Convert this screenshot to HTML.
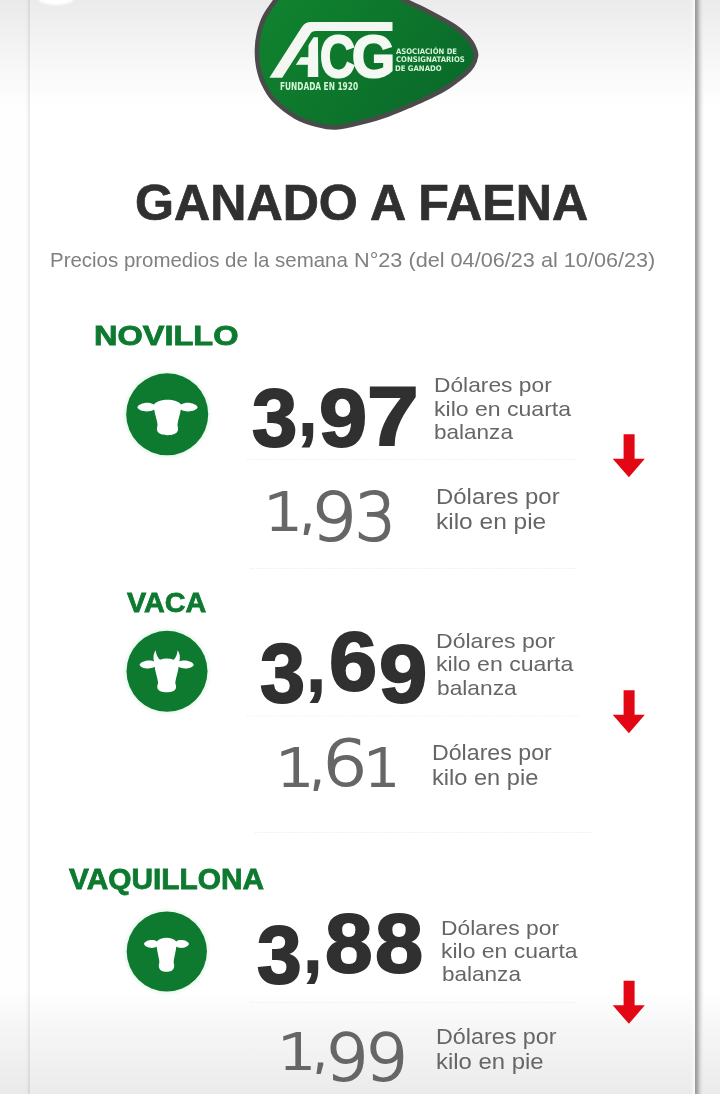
<!DOCTYPE html>
<html lang="es"><head><meta charset="utf-8"><title>Ganado a faena</title>
<style>
html,body{margin:0;padding:0}
html{width:720px;height:1094px;overflow:hidden}
body{width:720px;height:1094px;position:relative;overflow:hidden;background:#fff;font-family:"Liberation Sans",sans-serif}
.bg{position:absolute;left:0;top:0;width:720px;height:1094px;background:
 linear-gradient(to bottom,#ebebeb 0,#f1f1f1 30px,#f9f9f9 72px,#fff 108px,#fff 990px,#f6f6f6 1030px,#ebebeb 1094px)}
.lstrip{position:absolute;left:0;top:0;width:28px;height:1094px;background:rgba(0,0,0,.004)}
.lline{position:absolute;left:27.5px;top:0;width:2px;height:1094px;background:rgba(0,0,0,.075);box-shadow:-1.5px 0 2px rgba(0,0,0,.03)}
.oval{position:absolute;left:38px;top:-8px;width:36px;height:13px;border-radius:50%;background:#fff;filter:blur(1px)}
.redge{position:absolute;left:692px;top:0;width:28px;height:1094px;background:linear-gradient(to right,rgba(255,255,255,0) 0,rgba(255,255,255,.5) 1px,rgba(255,255,255,.5) 2.6px,#9a9a9a 3.2px,#a6a6a6 5px,rgba(190,190,190,.8) 7px,rgba(215,215,215,.55) 9px,rgba(235,235,235,.25) 11px,rgba(255,255,255,0) 12.5px)}
.t{position:absolute;white-space:nowrap;line-height:1;transform-origin:0 0;display:block}
svg{position:absolute;left:0;top:0}
.desc,.asoc{position:absolute;left:0;top:0}
.num,.acg,.il{position:absolute;left:0;top:0;font-size:0;line-height:0;white-space:nowrap}
.g{display:inline-block;position:relative;width:0;height:0;vertical-align:top;white-space:nowrap;line-height:1;transform-origin:0 0}
.aclip{display:inline-block;position:relative;vertical-align:top;width:0;height:0;clip-path:polygon(313.5px 37.2px,320px 37.2px,320px 80px,286px 80px,287.5px 77.8px)}
.page{position:absolute;left:0;top:0;width:720px;height:1094px;overflow:hidden}
</style></head><body><div class="page">
<div class="bg"></div><div class="lstrip"></div><div class="lline"></div><div class="redge"></div><div class="oval"></div>
<svg width="720" height="1094" viewBox="0 0 720 1094">
<defs><linearGradient id="lg" x1="0" y1="0" x2="1" y2="0.6"><stop offset="0" stop-color="#11862f"/><stop offset="1" stop-color="#0a6b2a"/></linearGradient>
<filter id="blur2" x="-20%" y="-20%" width="140%" height="140%"><feGaussianBlur stdDeviation="1.6"/></filter></defs>
<path d="M300,-30 C287.6,-28.7 289.5,-17.0 285.5,-12 C281.5,-7.0 279.3,-4.8 275.8,0 C272.3,4.8 267.4,11.2 264.6,16.7 C261.8,22.2 260.3,27.4 259,33 C257.7,38.5 257.1,44.4 257,50 C256.9,55.6 257.2,61.2 258.3,66.7 C259.4,72.2 260.7,77.5 263.3,83 C265.9,88.5 268.6,94.4 274,100 C279.4,105.6 288.5,112.6 295.5,116.7 C302.5,120.8 309.2,122.7 316,124.5 C322.8,126.3 327.8,128.0 336,127.5 C344.2,127.0 356.3,123.7 365,121.5 C373.7,119.3 380.7,117.1 388,114.5 C395.3,111.9 402.5,108.8 409,106 C415.5,103.2 421.2,100.8 427,98 C432.8,95.2 438.7,92.3 443.5,89.5 C448.3,86.7 452.2,83.8 456,81 C459.8,78.2 463.2,75.6 466,73 C468.8,70.4 470.8,68.3 472.5,65.5 C474.2,62.7 475.6,58.6 476,56 C476.4,53.4 475.8,52.2 475,50 C474.2,47.8 473.2,45.1 471.5,42.5 C469.8,39.9 467.3,37.2 464.5,34.5 C461.7,31.8 458.4,29.2 454.5,26.5 C450.6,23.8 445.9,21.2 441,18.5 C436.1,15.8 430.5,12.8 425,10 C419.5,7.2 414.2,5.0 408,2 C401.8,-1.0 396.0,-4.3 388,-8 C380.0,-11.7 374.7,-16.3 360,-20 C345.3,-23.7 312.4,-31.3 300,-30Z" fill="url(#lg)" stroke="#4b4b4b" stroke-width="4.6"/>
<path d="M269.4,77.8 L282.2,77.8 L310,34.4 Q312,31.1 316,31.1 L392.5,31.1 L392.5,22.1 L311,22.1 Q305,22.1 301.5,27.5 Z" fill="#f3f6f1"/>
<circle cx="167.2" cy="414.3" r="43.2" fill="#d9f2df" opacity=".55" filter="url(#blur2)"/><circle cx="167.2" cy="414.3" r="41" fill="#0d7a30"/><path d="M 137.33,407.33 C 138.33,403.67 148.00,400.67 153.83,404.50 C 156.00,401.67 161.67,399.83 167.50,399.83 C 173.33,399.83 179.00,401.67 181.17,404.50 C 187.00,400.67 196.67,403.67 197.67,407.33 C 196.67,411.00 186.67,413.33 180.83,409.50 C 180.17,414.67 178.00,419.67 177.50,424.33 C 177.33,426.33 178.33,427.50 178.00,430.00 C 177.33,433.83 172.50,435.17 167.50,435.17 C 162.50,435.17 157.67,433.83 157.00,430.00 C 156.67,427.50 157.67,426.33 157.50,424.33 C 157.00,419.67 154.83,414.67 154.17,409.50 C 148.33,413.33 138.33,411.00 137.33,407.33 Z" fill="#fff"/><circle cx="167" cy="671.3" r="42.7" fill="#d9f2df" opacity=".55" filter="url(#blur2)"/><circle cx="167" cy="671.3" r="40.5" fill="#0d7a30"/><path d="M 139.50,664.83 C 140.67,661.00 150.00,659.00 154.00,661.50 C 152.83,657.50 153.50,653.33 155.67,650.33 C 156.17,654.17 157.17,657.67 160.00,659.67 C 164.17,658.00 169.17,658.00 173.67,659.67 C 176.17,657.67 177.17,654.17 177.67,650.33 C 179.83,653.33 180.50,657.50 179.33,661.50 C 183.33,659.00 192.67,661.00 193.83,664.83 C 192.67,668.50 183.33,670.00 178.67,666.83 C 178.00,672.00 176.00,677.67 175.33,682.17 C 175.17,684.17 176.33,685.17 176.00,687.67 C 175.33,691.00 171.33,692.17 166.67,692.17 C 162.00,692.17 158.00,691.00 157.33,687.67 C 157.00,685.17 158.17,684.17 158.00,682.17 C 157.33,677.67 155.33,672.00 154.67,666.83 C 150.00,670.00 140.67,668.50 139.50,664.83 Z" fill="#fff"/><circle cx="166.8" cy="951.5" r="42.300000000000004" fill="#d9f2df" opacity=".55" filter="url(#blur2)"/><circle cx="166.8" cy="951.5" r="40.1" fill="#0d7a30"/><path d="M 144.00,944.00 C 145.00,940.33 153.33,938.67 156.83,941.50 C 158.83,939.00 162.67,937.83 166.50,937.83 C 170.33,937.83 174.17,939.00 176.17,941.50 C 179.67,938.67 188.00,940.33 189.00,944.00 C 188.00,947.67 180.00,949.33 176.33,946.50 C 175.83,951.17 174.33,956.83 173.67,961.50 C 173.50,963.33 174.50,964.33 174.17,966.83 C 173.67,970.50 170.33,971.83 166.50,971.83 C 162.67,971.83 159.33,970.50 158.83,966.83 C 158.50,964.33 159.50,963.33 159.33,961.50 C 158.67,956.83 157.17,951.17 156.67,946.50 C 153.00,949.33 145.00,947.67 144.00,944.00 Z" fill="#fff"/>
<path d="M623.6,434.3 h11 v24.5 h10.2 L628.9,477.3 L612.7,458.8 h10.9 Z" fill="#e30613"/><path d="M623.6,690.3 h11 v24.5 h10.2 L628.9,733.3 L612.7,714.8 h10.9 Z" fill="#e30613"/><path d="M623.6,980.8 h11 v24.5 h10.2 L628.9,1023.8 L612.7,1005.3 h10.9 Z" fill="#e30613"/>
<line x1="247" y1="459.5" x2="576" y2="459.5" stroke="#eeeeee" stroke-width="1.2" stroke-dasharray="1.5 1.5"/><line x1="250" y1="568.5" x2="576" y2="568.5" stroke="#eeeeee" stroke-width="1.2" stroke-dasharray="1.5 1.5"/><line x1="247" y1="716" x2="580" y2="716" stroke="#eeeeee" stroke-width="1.2" stroke-dasharray="1.5 1.5"/><line x1="255" y1="832.5" x2="592" y2="832.5" stroke="#eeeeee" stroke-width="1.2" stroke-dasharray="1.5 1.5"/><line x1="250" y1="1002.5" x2="576" y2="1002.5" stroke="#eeeeee" stroke-width="1.2" stroke-dasharray="1.5 1.5"/>
</svg>
<header><div class="acg"><span class="aclip"><span class="g" style="left:267.4px;top:19px;font-size:69.8px;font-weight:700;color:#f4f8f3;transform-origin:0 58.8px;transform:scaleX(1.05) skewX(-19.6deg)">A</span></span><span class="g" style="left:320.22px;top:28.4px;font-size:58.72px;transform:scaleX(0.8232);color:#f4f8f3;font-weight:700;-webkit-text-stroke:2.2px #f4f8f3;">C</span><span class="g" style="left:351.82px;top:28.4px;font-size:58.72px;transform:scaleX(0.9405);color:#f4f8f3;font-weight:700;-webkit-text-stroke:2.2px #f4f8f3;">G</span></div><span class="t" style="left:280.23px;top:81.8px;font-size:9.6px;transform:scaleX(0.7719);color:#d6f5da;font-family:'DejaVu Sans',sans-serif;font-weight:700;">FUNDADA EN 1920</span><div class="asoc"><span class="t" style="left:396.1px;top:47.9px;font-size:7.7px;transform:scaleX(0.8945);color:#d6f5da;font-family:'DejaVu Sans',sans-serif;font-weight:700;">ASOCIACIÓN DE</span><span class="t" style="left:395.65px;top:56.2px;font-size:7.7px;transform:scaleX(0.898);color:#d6f5da;font-family:'DejaVu Sans',sans-serif;font-weight:700;">CONSIGNATARIOS</span><span class="t" style="left:395.43px;top:65.1px;font-size:7.7px;transform:scaleX(0.8985);color:#d6f5da;font-family:'DejaVu Sans',sans-serif;font-weight:700;">DE GANADO</span></div></header>
<h1 style="margin:0;font-size:inherit;font-weight:inherit"><span class="t" style="left:135.12px;top:177.95px;font-size:49.23px;transform:scaleX(1.0189);color:#303030;font-weight:700;-webkit-text-stroke:.7px #303030;">GANADO A FAENA</span></h1>
<p class="il" style="margin:0"><span class="g" style="left:49.56px;top:250.1px;font-size:20.6px;transform:scaleX(0.9931);color:#808080;">Precios promedios de la semana</span> <span class="g" style="left:353.96px;top:250.1px;font-size:20.6px;transform:scaleX(1.0519);color:#808080;">N°23 (del 04/06/23 al 10/06/23)</span></p>
<section><h2 style="margin:0;font-size:inherit"><span class="t" style="left:94.44px;top:322.55px;font-size:26.96px;transform:scaleX(1.2064);color:#0d7a30;font-weight:700;-webkit-text-stroke:.8px #0d7a30;">NOVILLO</span></h2><div class="num"><span class="g" style="left:251.75px;top:376.5px;font-size:81.85px;transform:scaleX(0.9942);color:#303030;font-weight:700;-webkit-text-stroke:2px #303030;">3</span><span class="g" style="left:299.32px;top:372.5px;font-size:73.73px;transform:scaleX(0.8593);color:#303030;font-weight:700;-webkit-text-stroke:2px #303030;">,</span><span class="g" style="left:318.95px;top:377.25px;font-size:82.13px;transform:scaleX(1.0548);color:#303030;font-weight:700;-webkit-text-stroke:2px #303030;">9</span><span class="g" style="left:367.19px;top:376.0px;font-size:82.69px;transform:scaleX(1.1239);color:#303030;font-weight:700;-webkit-text-stroke:2px #303030;">7</span></div><div class="desc"><span class="t" style="left:433.6px;top:374.0px;font-size:21.0px;transform:scaleX(1.0845);color:#666;">Dólares por</span><span class="t" style="left:433.85px;top:397.5px;font-size:21.0px;transform:scaleX(1.0972);color:#666;">kilo en cuarta</span><span class="t" style="left:434.16px;top:421.0px;font-size:21.0px;transform:scaleX(1.0727);color:#666;">balanza</span></div><div class="num"><span class="g" style="left:264.22px;top:485.8px;font-size:52.38px;transform:scaleX(1.1745);color:#666;font-family:'DejaVu Sans Light','DejaVu Sans',sans-serif;font-weight:200;-webkit-text-stroke:2.2px #666;">1</span><span class="g" style="left:297.66px;top:484.08px;font-size:52.71px;transform:scaleX(1.1667);color:#666;font-family:'DejaVu Sans Light','DejaVu Sans',sans-serif;font-weight:200;-webkit-text-stroke:2.2px #666;">,</span><span class="g" style="left:311.06px;top:485.1px;font-size:65.99px;transform:scaleX(1.0938);color:#666;font-family:'DejaVu Sans Light','DejaVu Sans',sans-serif;font-weight:200;-webkit-text-stroke:2.2px #666;">9</span><span class="g" style="left:355.29px;top:485.1px;font-size:65.99px;transform:scaleX(0.9767);color:#666;font-family:'DejaVu Sans Light','DejaVu Sans',sans-serif;font-weight:200;-webkit-text-stroke:2.2px #666;">3</span></div><div class="desc"><span class="t" style="left:435.58px;top:485.75px;font-size:21.8px;transform:scaleX(1.0973);color:#666;">Dólares por</span><span class="t" style="left:435.82px;top:510.75px;font-size:21.8px;transform:scaleX(1.1227);color:#666;">kilo en pie</span></div></section>
<section><h2 style="margin:0;font-size:inherit"><span class="t" style="left:127.01px;top:589.25px;font-size:27.66px;transform:scaleX(1.0393);color:#0d7a30;font-weight:700;-webkit-text-stroke:.8px #0d7a30;">VACA</span></h2><div class="num"><span class="g" style="left:259.86px;top:631.52px;font-size:82.47px;transform:scaleX(0.9827);color:#303030;font-weight:700;-webkit-text-stroke:2px #303030;">3</span><span class="g" style="left:307.28px;top:630.0px;font-size:72.34px;transform:scaleX(0.9057);color:#303030;font-weight:700;-webkit-text-stroke:2px #303030;">,</span><span class="g" style="left:328.63px;top:620.45px;font-size:83.58px;transform:scaleX(1.0353);color:#303030;font-weight:700;-webkit-text-stroke:2px #303030;">6</span><span class="g" style="left:379.25px;top:632.0px;font-size:82.34px;transform:scaleX(1.0548);color:#303030;font-weight:700;-webkit-text-stroke:2px #303030;">9</span></div><div class="desc"><span class="t" style="left:436.08px;top:629.5px;font-size:21.0px;transform:scaleX(1.0986);color:#666;">Dólares por</span><span class="t" style="left:436.35px;top:652.75px;font-size:21.0px;transform:scaleX(1.0992);color:#666;">kilo en cuarta</span><span class="t" style="left:436.65px;top:677.0px;font-size:21.0px;transform:scaleX(1.083);color:#666;">balanza</span></div><div class="num"><span class="g" style="left:275.96px;top:743.35px;font-size:51.06px;transform:scaleX(1.187);color:#666;font-family:'DejaVu Sans Light','DejaVu Sans',sans-serif;font-weight:200;-webkit-text-stroke:2.2px #666;">1</span><span class="g" style="left:308.42px;top:739.85px;font-size:53.14px;transform:scaleX(1.1333);color:#666;font-family:'DejaVu Sans Light','DejaVu Sans',sans-serif;font-weight:200;-webkit-text-stroke:2.2px #666;">,</span><span class="g" style="left:321.66px;top:732.65px;font-size:62.78px;transform:scaleX(1.1475);color:#666;font-family:'DejaVu Sans Light','DejaVu Sans',sans-serif;font-weight:200;-webkit-text-stroke:2.2px #666;">6</span><span class="g" style="left:364.17px;top:743.35px;font-size:51.06px;transform:scaleX(1.1174);color:#666;font-family:'DejaVu Sans Light','DejaVu Sans',sans-serif;font-weight:200;-webkit-text-stroke:2.2px #666;">1</span></div><div class="desc"><span class="t" style="left:431.85px;top:743.0px;font-size:21.4px;transform:scaleX(1.0829);color:#666;">Dólares por</span><span class="t" style="left:432.09px;top:767.5px;font-size:21.4px;transform:scaleX(1.1037);color:#666;">kilo en pie</span></div></section>
<section><h2 style="margin:0;font-size:inherit"><span class="t" style="left:68.76px;top:864.75px;font-size:28.6px;transform:scaleX(1.0431);color:#0d7a30;font-weight:700;-webkit-text-stroke:.8px #0d7a30;">VAQUILLONA</span></h2><div class="num"><span class="g" style="left:257.36px;top:914.0px;font-size:81.85px;transform:scaleX(0.9801);color:#303030;font-weight:700;-webkit-text-stroke:2px #303030;">3</span><span class="g" style="left:304.27px;top:910.75px;font-size:72.34px;transform:scaleX(0.8755);color:#303030;font-weight:700;-webkit-text-stroke:2px #303030;">,</span><span class="g" style="left:324.55px;top:901.98px;font-size:82.55px;transform:scaleX(1.0363);color:#303030;font-weight:700;-webkit-text-stroke:2px #303030;">8</span><span class="g" style="left:375.23px;top:901.98px;font-size:82.55px;transform:scaleX(1.048);color:#303030;font-weight:700;-webkit-text-stroke:2px #303030;">8</span></div><div class="desc"><span class="t" style="left:441.1px;top:916.5px;font-size:21.0px;transform:scaleX(1.0869);color:#666;">Dólares por</span><span class="t" style="left:441.36px;top:940.0px;font-size:21.0px;transform:scaleX(1.0931);color:#666;">kilo en cuarta</span><span class="t" style="left:441.66px;top:962.75px;font-size:21.0px;transform:scaleX(1.0727);color:#666;">balanza</span></div><div class="num"><span class="g" style="left:278.3px;top:1028.2px;font-size:49.86px;transform:scaleX(1.2111);color:#666;font-family:'DejaVu Sans Light','DejaVu Sans',sans-serif;font-weight:200;-webkit-text-stroke:2.2px #666;">1</span><span class="g" style="left:311.42px;top:1023.45px;font-size:53.14px;transform:scaleX(1.1333);color:#666;font-family:'DejaVu Sans Light','DejaVu Sans',sans-serif;font-weight:200;-webkit-text-stroke:2.2px #666;">,</span><span class="g" style="left:324.64px;top:1025.85px;font-size:64.0px;transform:scaleX(1.072);color:#666;font-family:'DejaVu Sans Light','DejaVu Sans',sans-serif;font-weight:200;-webkit-text-stroke:2.2px #666;">9</span><span class="g" style="left:365.02px;top:1025.85px;font-size:64.0px;transform:scaleX(1.056);color:#666;font-family:'DejaVu Sans Light','DejaVu Sans',sans-serif;font-weight:200;-webkit-text-stroke:2.2px #666;">9</span></div><div class="desc"><span class="t" style="left:436.09px;top:1027.0px;font-size:21.4px;transform:scaleX(1.0899);color:#666;">Dólares por</span><span class="t" style="left:436.32px;top:1051.5px;font-size:21.4px;transform:scaleX(1.117);color:#666;">kilo en pie</span></div></section>
</div></body></html>
